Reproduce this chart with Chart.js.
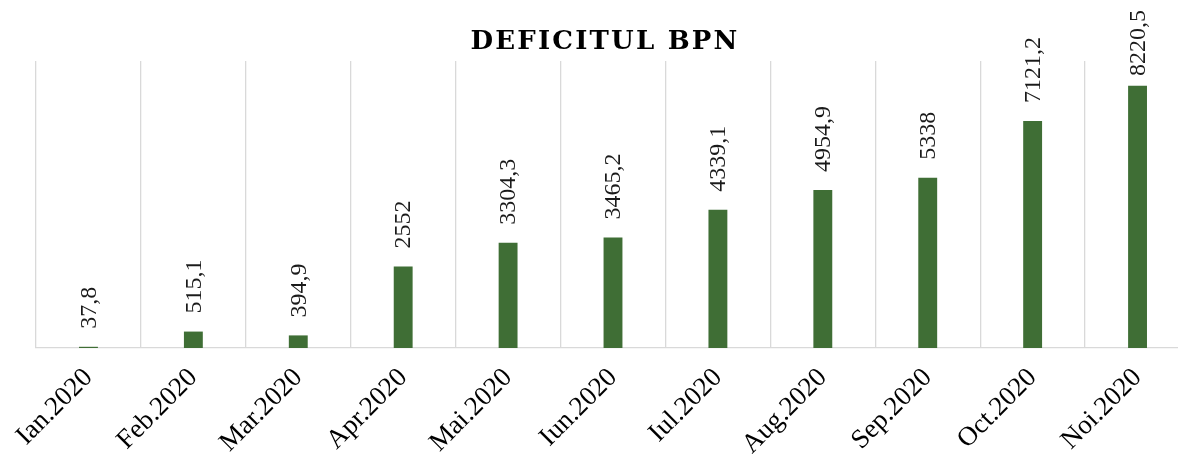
<!DOCTYPE html>
<html>
<head>
<meta charset="utf-8">
<script src="https://cdn.jsdelivr.net/npm/chart.js@4.4.1/dist/chart.umd.min.js"></script>
<style>
  body { margin: 0; background: #fff; overflow: hidden; }
  #wrap { position: absolute; left: 0; top: 0; width: 1190px; height: 459px; }
  #title {
    position: absolute; left: 0; width: 1210px; top: 25px; text-align: center;
    font-family: "DejaVu Serif", serif; font-weight: bold; font-size: 26px;
    letter-spacing: 2.2px; color: #000; z-index: 2; pointer-events: none;
    line-height: 30px;
  }
</style>
</head>
<body>
<div id="title">DEFICITUL BPN</div>
<div id="wrap"><canvas id="chart"></canvas></div>
<script>
// Data
const months = ['Ian.2020', 'Feb.2020', 'Mar.2020', 'Apr.2020', 'Mai.2020', 'Iun.2020',
  'Iul.2020', 'Aug.2020', 'Sep.2020', 'Oct.2020', 'Noi.2020'];
const deficit = [37.8, 515.1, 394.9, 2552, 3304.3, 3465.2, 4339.1, 4954.9, 5338, 7121.2, 8220.5];
const yMax = 9000;

// value labels, rotated, like the excel ones
const barLabels = {
  id: 'barLabels',
  afterDatasetsDraw(chart) {
    const ctx = chart.ctx;
    const meta = chart.getDatasetMeta(0);
    ctx.save();
    ctx.font = '24px "Liberation Serif"';
    ctx.fillStyle = '#1a1a1a';
    ctx.textAlign = 'left';
    ctx.textBaseline = 'middle';
    meta.data.forEach((bar, i) => {
      const txt = String(deficit[i]).replace('.', ',');
      const w = ctx.measureText(txt).width;
      let y = bar.y - 18;
      if (y - w < 10) y = 10 + w; // keep inside the picture
      ctx.save();
      ctx.translate(bar.x + 1, y);
      ctx.rotate(-Math.PI / 2);
      ctx.fillText(txt, 0, 0);
      ctx.restore();
    });
    ctx.restore();
  }
};

const ctx = document.getElementById('chart').getContext('2d');
new Chart(ctx, {
  type: 'bar',
  data: {
    labels: months,
    datasets: [{
      data: deficit,
      backgroundColor: '#3f6e35',
      barPercentage: 0.6,
      categoryPercentage: 0.3
    }]
  },
  options: {
    responsive: true,
    maintainAspectRatio: false,
    animation: false,
    layout: { padding: { left: 36, top: 61, right: 0, bottom: 0 } },
    plugins: {
      legend: { display: false },
      tooltip: { enabled: false }
    },
    scales: {
      x: {
        grid: { color: '#d9d9d9', lineWidth: 1.3, drawTicks: false, offset: true },
        border: { color: '#d9d9d9', width: 1.3 },
        ticks: {
          color: '#000',
          font: { family: 'Liberation Serif', size: 27 },
          maxRotation: 45, minRotation: 45,
          padding: 14
        },
        afterFit: (scale) => { scale.height = 111; }
      },
      y: { display: false, min: 0, max: yMax }
    }
  },
  plugins: [barLabels]
});
</script>
</body>
</html>
